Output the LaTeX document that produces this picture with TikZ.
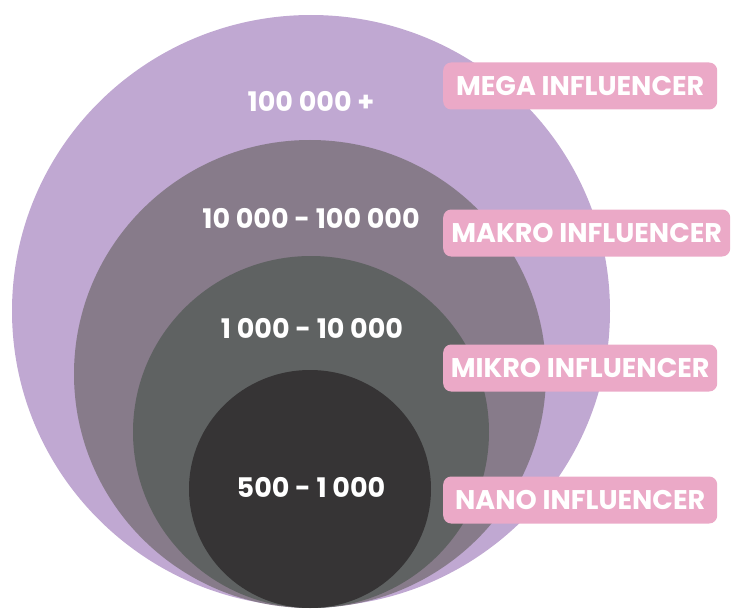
\documentclass[tikz,border=0pt]{standalone}
\usepackage{fontspec}
\setmainfont{Poppins}

\definecolor{megacol}{HTML}{C0A8D2}
\definecolor{makrocol}{HTML}{877B8A}
\definecolor{mikrocol}{HTML}{5F6262}
\definecolor{nanocol}{HTML}{363435}
\definecolor{tagcol}{HTML}{EBA9C7}

\tikzset{
	tag/.style={fill=tagcol, rounded corners=8pt, text=white, anchor=west,
		minimum width=274pt, minimum height=47pt, inner sep=0pt,
		font=\fontsize{27}{27}\selectfont\bfseries},
	reach/.style={text=white, inner sep=0pt,
		font=\fontsize{27}{27}\selectfont\bfseries}
}

\begin{document}
\begin{tikzpicture}[x=1pt, y=-1pt]
	\useasboundingbox ( 0, 0 ) rectangle ( 732, 610 );

	% вложенные круги
	\fill [megacol]  ( 311, 311 ) ellipse ( 299 and 296 );
	\fill [makrocol] ( 310, 374 ) ellipse ( 236 and 234 );
	\fill [mikrocol] ( 311, 432 ) ellipse ( 178 and 176 );
	\fill [nanocol]  ( 310, 489 ) ellipse ( 121 and 119 );

	% охват
	\node [reach] (mega)  at ( 311, 101 ) {100 000 +};
	\node [reach] (makro) at ( 311, 218 ) {10 000 - 100 000};
	\node [reach] (mikro) at ( 312, 328 ) {1 000 - 10 000};
	\node [reach] (nano)  at ( 311, 487 ) {500 - 1 000};

	% подписи
	\node [tag] (megatag)  at ( 443, 86 )  {MEGA INFLUENCER};
	\node [tag, minimum width=287pt] (makrotag) at ( 443, 233 ) {MAKRO INFLUENCER};
	\node [tag] (mikrotag) at ( 443, 368 ) {MIKRO INFLUENCER};
	\node [tag] (nanotag)  at ( 443, 500 ) {NANO INFLUENCER};
\end{tikzpicture}
\end{document}
